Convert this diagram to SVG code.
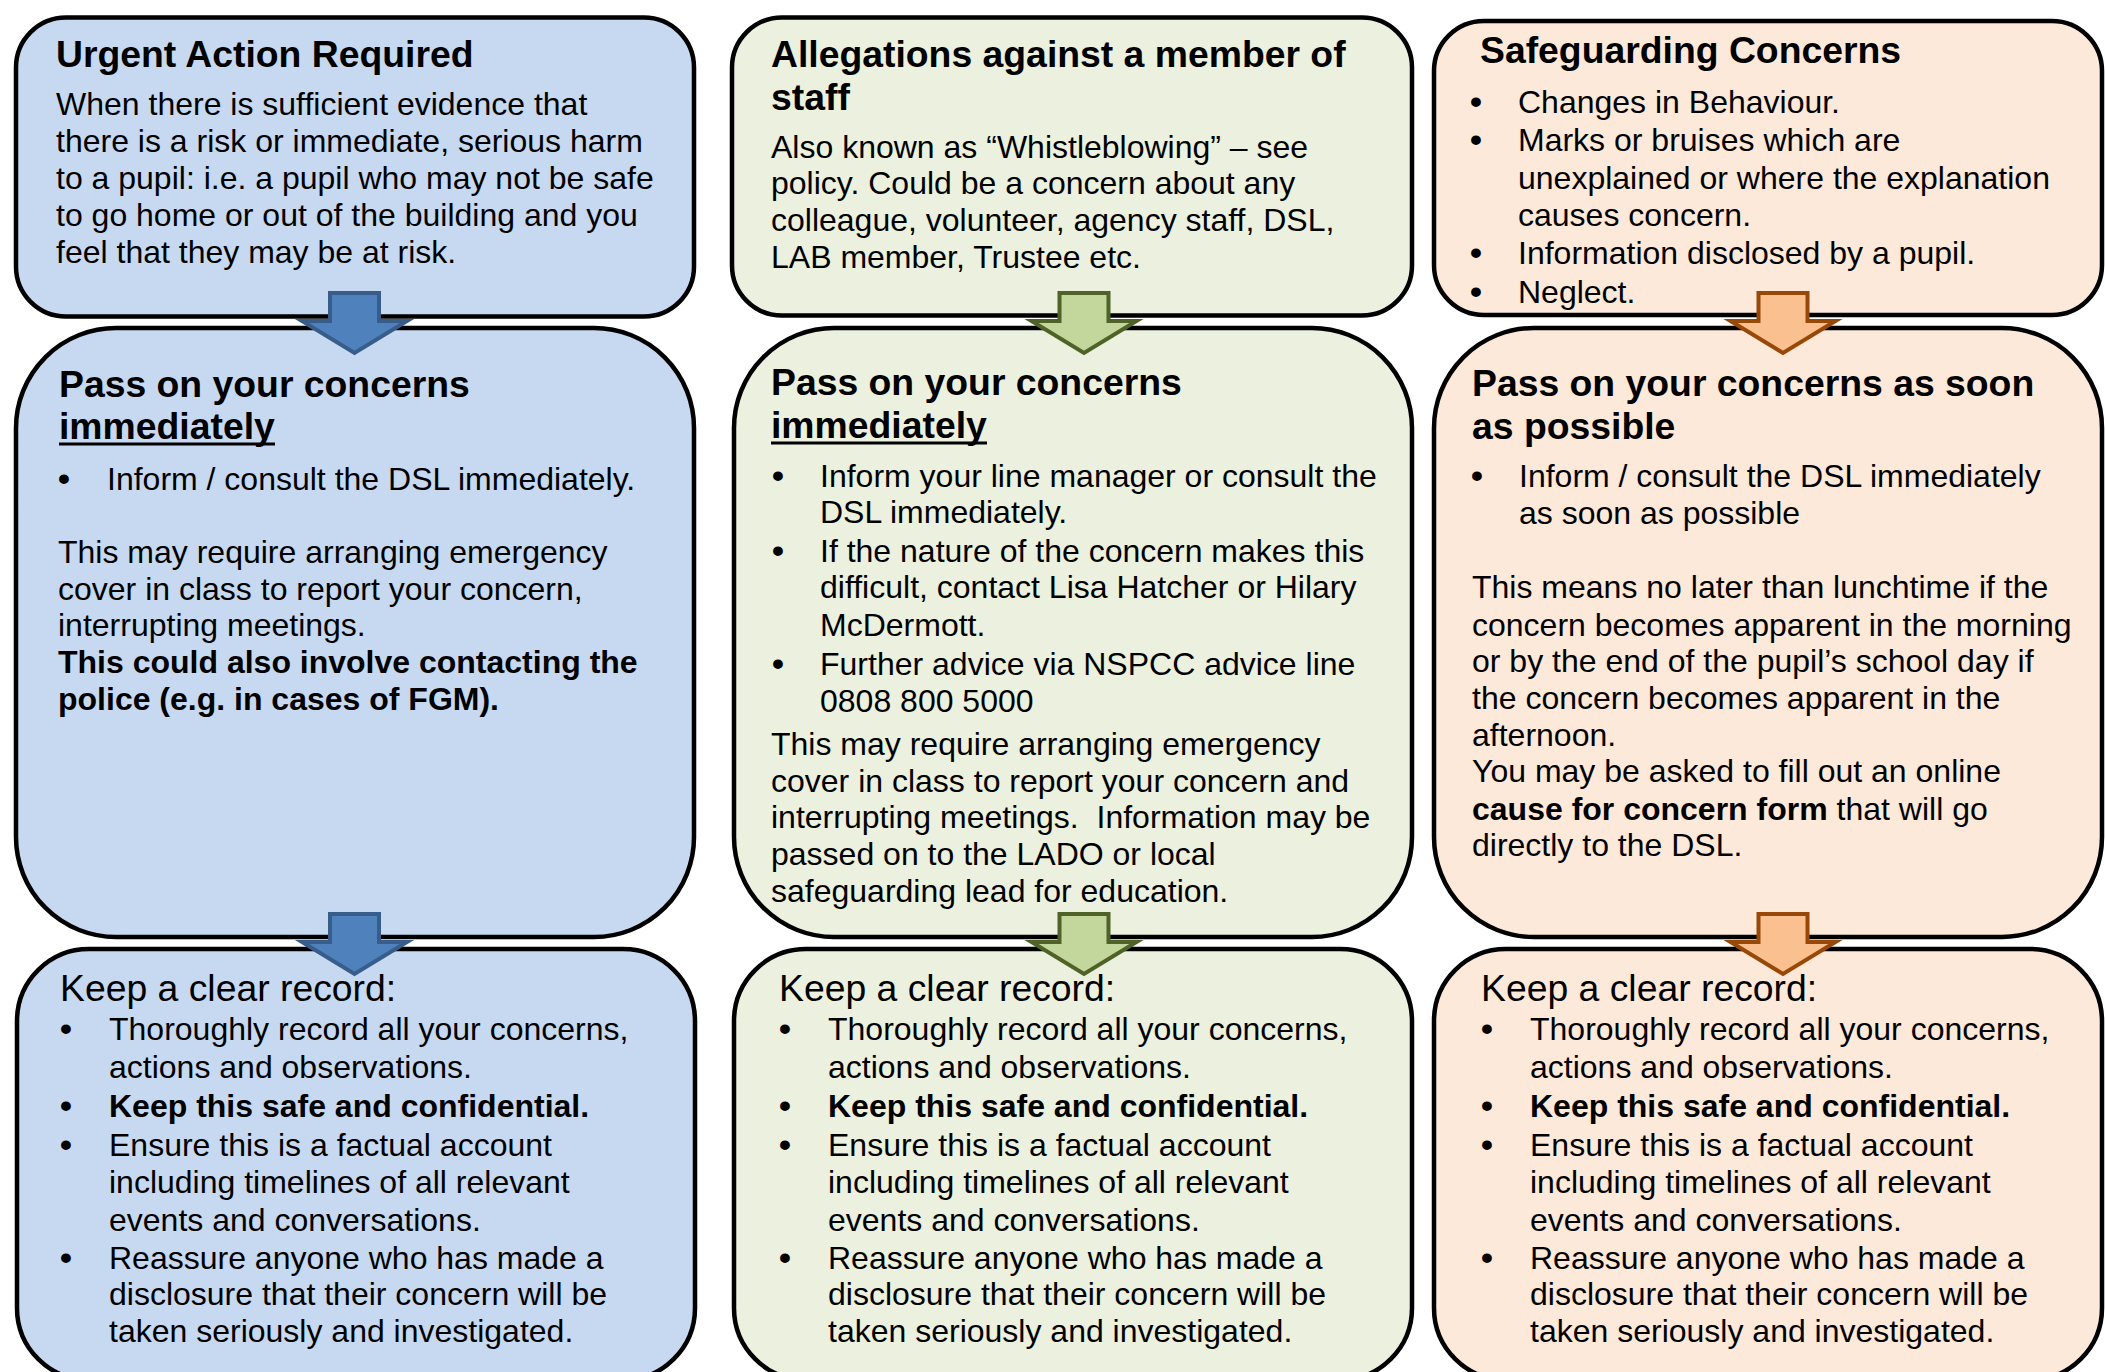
<svg xmlns="http://www.w3.org/2000/svg" xmlns:xlink="http://www.w3.org/1999/xlink" width="2105" height="1372" viewBox="0 0 2105 1372">
<defs>
<style>
.box{stroke:#000;stroke-width:4.5}
.blue{fill:#C6D9F1}
.green{fill:#EBF1DE}
.orange{fill:#FDE9D9}
text{font-family:"Liberation Sans",Arial,sans-serif;fill:#000}
.t{font-size:32px}
.d{font-size:34px;font-weight:bold}
.h{font-size:37.33px;font-weight:bold}
.k{font-size:37.33px}
.b{font-weight:bold}
.ul{stroke:#000;stroke-width:3}
.ab{fill:#4F81BD;stroke:#385D8A;stroke-width:4}
.ag{fill:#C3D69B;stroke:#4F6228;stroke-width:4}
.ao{fill:#FAC090;stroke:#984807;stroke-width:4}
</style>
<path id="arr" d="M-24.5 0H24.5V28H52.5L0 60L-52.5 28H-24.5Z"/>
</defs>
<rect width="2105" height="1372" fill="#fff"/>

<g id="urgent">
<rect class="box blue" x="16" y="17.5" width="678" height="299" rx="50"/>
<text class="h" x="56" y="66.7">Urgent Action Required</text>
<text class="t" x="56" y="114.7">When there is sufficient evidence that</text>
<text class="t" x="56" y="151.7">there is a risk or immediate, serious harm</text>
<text class="t" x="56" y="188.7">to a pupil: i.e. a pupil who may not be safe</text>
<text class="t" x="56" y="225.7">to go home or out of the building and you</text>
<text class="t" x="56" y="262.7">feel that they may be at risk.</text>
</g>

<g id="allegations">
<rect class="box green" x="732" y="17.5" width="680" height="298" rx="50"/>
<text class="h" x="771" y="66.7">Allegations against a member of</text>
<text class="h" x="771" y="109.7">staff</text>
<text class="t" x="771" y="157.7">Also known as “Whistleblowing” – see</text>
<text class="t" x="771" y="193.7">policy. Could be a concern about any</text>
<text class="t" x="771" y="230.7">colleague, volunteer, agency staff, DSL,</text>
<text class="t" x="771" y="267.7">LAB member, Trustee etc.</text>
</g>

<g id="safeguarding">
<rect class="box orange" x="1434" y="21" width="668" height="294" rx="50"/>
<text class="h" x="1480" y="62.7">Safeguarding Concerns</text>
<text class="d" x="1470" y="113.2">•</text><text class="t" x="1518" y="112.7">Changes in Behaviour.</text>
<text class="d" x="1470" y="151.2">•</text><text class="t" x="1518" y="150.7">Marks or bruises which are</text>
<text class="t" x="1518" y="188.7">unexplained or where the explanation</text>
<text class="t" x="1518" y="225.7">causes concern.</text>
<text class="d" x="1470" y="264.2">•</text><text class="t" x="1518" y="263.7">Information disclosed by a pupil.</text>
<text class="d" x="1470" y="303.2">•</text><text class="t" x="1518" y="302.7">Neglect.</text>
</g>

<g id="pass-urgent">
<rect class="box blue" x="16" y="328" width="678" height="609" rx="100"/>
<text class="h" x="59" y="397">Pass on your concerns</text>
<text class="h" x="59" y="439">immediately</text>
<line class="ul" x1="59" y1="444" x2="275" y2="444"/>
<text class="d" x="58" y="490.2">•</text><text class="t" x="107" y="489.7">Inform / consult the DSL immediately.</text>
<text class="t" x="58" y="562.7">This may require arranging emergency</text>
<text class="t" x="58" y="599.7">cover in class to report your concern,</text>
<text class="t" x="58" y="635.7">interrupting meetings.</text>
<text class="t b" x="58" y="672.7">This could also involve contacting the</text>
<text class="t b" x="58" y="709.7">police (e.g. in cases of FGM).</text>
</g>

<g id="pass-allegations">
<rect class="box green" x="734" y="328" width="678" height="609" rx="100"/>
<text class="h" x="771" y="395">Pass on your concerns</text>
<text class="h" x="771" y="438">immediately</text>
<line class="ul" x1="771" y1="443" x2="987" y2="443"/>
<text class="d" x="772" y="487.2">•</text><text class="t" x="820" y="486.7">Inform your line manager or consult the</text>
<text class="t" x="820" y="522.7">DSL immediately.</text>
<text class="d" x="772" y="562.2">•</text><text class="t" x="820" y="561.7">If the nature of the concern makes this</text>
<text class="t" x="820" y="597.7">difficult, contact Lisa Hatcher or Hilary</text>
<text class="t" x="820" y="635.7">McDermott.</text>
<text class="d" x="772" y="675.2">•</text><text class="t" x="820" y="674.7">Further advice via NSPCC advice line</text>
<text class="t" x="820" y="711.7">0808 800 5000</text>
<text class="t" x="771" y="754.7">This may require arranging emergency</text>
<text class="t" x="771" y="791.7">cover in class to report your concern and</text>
<text class="t" x="771" y="827.7">interrupting meetings.&#160; Information may be</text>
<text class="t" x="771" y="864.7">passed on to the LADO or local</text>
<text class="t" x="771" y="901.7">safeguarding lead for education.</text>
</g>

<g id="pass-safeguarding">
<rect class="box orange" x="1434" y="328" width="668" height="609" rx="100"/>
<text class="h" x="1472" y="396">Pass on your concerns as soon</text>
<text class="h" x="1472" y="439">as possible</text>
<text class="d" x="1471" y="487.2">•</text><text class="t" x="1519" y="486.7">Inform / consult the DSL immediately</text>
<text class="t" x="1519" y="523.7">as soon as possible</text>
<text class="t" x="1472" y="597.7">This means no later than lunchtime if the</text>
<text class="t" x="1472" y="635.7">concern becomes apparent in the morning</text>
<text class="t" x="1472" y="671.7">or by the end of the pupil’s school day if</text>
<text class="t" x="1472" y="708.7">the concern becomes apparent in the</text>
<text class="t" x="1472" y="745.7">afternoon.</text>
<text class="t" x="1472" y="781.7">You may be asked to fill out an online</text>
<text class="t" x="1472" y="819.7"><tspan class="b">cause for concern form</tspan> that will go</text>
<text class="t" x="1472" y="855.7">directly to the DSL.</text>
</g>

<g id="record-urgent">
<rect class="box blue" x="17" y="949" width="678" height="431" rx="72"/>
<text class="k" x="60" y="1000.7">Keep a clear record:</text>
<text class="d" x="60" y="1040.2">•</text><text class="t" x="109" y="1039.7">Thoroughly record all your concerns,</text>
<text class="t" x="109" y="1077.7">actions and observations.</text>
<text class="d" x="60" y="1117.2">•</text><text class="t b" x="109" y="1116.7">Keep this safe and confidential.</text>
<text class="d" x="60" y="1156.2">•</text><text class="t" x="109" y="1155.7">Ensure this is a factual account</text>
<text class="t" x="109" y="1192.7">including timelines of all relevant</text>
<text class="t" x="109" y="1230.7">events and conversations.</text>
<text class="d" x="60" y="1269.2">•</text><text class="t" x="109" y="1268.7">Reassure anyone who has made a</text>
<text class="t" x="109" y="1304.7">disclosure that their concern will be</text>
<text class="t" x="109" y="1341.7">taken seriously and investigated.</text>
</g>

<g id="record-allegations">
<rect class="box green" x="734" y="949" width="678" height="431" rx="72"/>
<text class="k" x="779" y="1000.7">Keep a clear record:</text>
<text class="d" x="779" y="1040.2">•</text><text class="t" x="828" y="1039.7">Thoroughly record all your concerns,</text>
<text class="t" x="828" y="1077.7">actions and observations.</text>
<text class="d" x="779" y="1117.2">•</text><text class="t b" x="828" y="1116.7">Keep this safe and confidential.</text>
<text class="d" x="779" y="1156.2">•</text><text class="t" x="828" y="1155.7">Ensure this is a factual account</text>
<text class="t" x="828" y="1192.7">including timelines of all relevant</text>
<text class="t" x="828" y="1230.7">events and conversations.</text>
<text class="d" x="779" y="1269.2">•</text><text class="t" x="828" y="1268.7">Reassure anyone who has made a</text>
<text class="t" x="828" y="1304.7">disclosure that their concern will be</text>
<text class="t" x="828" y="1341.7">taken seriously and investigated.</text>
</g>

<g id="record-safeguarding">
<rect class="box orange" x="1434" y="949" width="668" height="431" rx="72"/>
<text class="k" x="1481" y="1000.7">Keep a clear record:</text>
<text class="d" x="1481" y="1040.2">•</text><text class="t" x="1530" y="1039.7">Thoroughly record all your concerns,</text>
<text class="t" x="1530" y="1077.7">actions and observations.</text>
<text class="d" x="1481" y="1117.2">•</text><text class="t b" x="1530" y="1116.7">Keep this safe and confidential.</text>
<text class="d" x="1481" y="1156.2">•</text><text class="t" x="1530" y="1155.7">Ensure this is a factual account</text>
<text class="t" x="1530" y="1192.7">including timelines of all relevant</text>
<text class="t" x="1530" y="1230.7">events and conversations.</text>
<text class="d" x="1481" y="1269.2">•</text><text class="t" x="1530" y="1268.7">Reassure anyone who has made a</text>
<text class="t" x="1530" y="1304.7">disclosure that their concern will be</text>
<text class="t" x="1530" y="1341.7">taken seriously and investigated.</text>
</g>

<g id="connectors">
<use xlink:href="#arr" class="ab" transform="translate(354.5,293)"/>
<use xlink:href="#arr" class="ab" transform="translate(354.5,914)"/>
<use xlink:href="#arr" class="ag" transform="translate(1084,293)"/>
<use xlink:href="#arr" class="ag" transform="translate(1084,914)"/>
<use xlink:href="#arr" class="ao" transform="translate(1783,293)"/>
<use xlink:href="#arr" class="ao" transform="translate(1783,914)"/>
</g>
</svg>
